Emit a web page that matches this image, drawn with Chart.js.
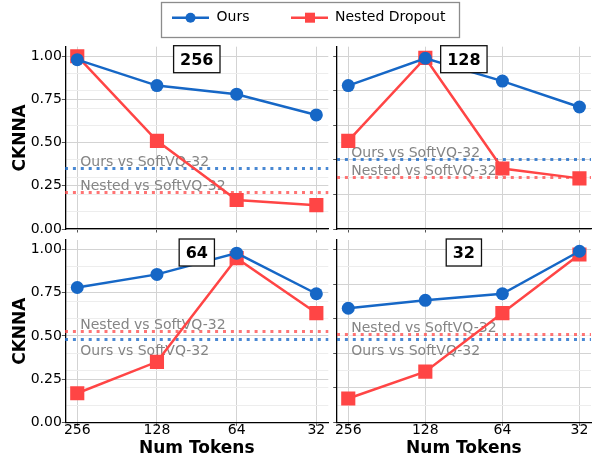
<!DOCTYPE html>
<html>
<head>
<meta charset="utf-8">
<script src="https://cdn.jsdelivr.net/npm/chart.js@4/dist/chart.umd.min.js"></script>
<style>
  html, body { margin: 0; padding: 0; background: #fff; overflow: hidden; width: 599px; height: 457px; }
  canvas { position: absolute; left: 0; top: 0; }
</style>
</head>
<body>
<canvas id="p0" width="601" height="457"></canvas>
<canvas id="p1" width="601" height="457"></canvas>
<canvas id="p2" width="601" height="457"></canvas>
<canvas id="p3" width="601" height="457"></canvas>
<script>
// Token counts on the x axis and the panel titles
const categories = ['256', '128', '64', '32'];
const panelTitles = ['256', '128', '64', '32'];

// CKNNA against each reference token count
const ours256   = [0.98, 0.83, 0.78, 0.66];
const nested256 = [1.00, 0.51, 0.168, 0.138];
const ours128   = [0.83, 0.988, 0.856, 0.706];
const nested128 = [0.51, 0.99, 0.35, 0.293];
const ours64    = [0.78, 0.856, 0.979, 0.744];
const nested64  = [0.168, 0.35, 0.95, 0.632];
const ours32    = [0.66, 0.706, 0.744, 0.99];
const nested32  = [0.138, 0.293, 0.632, 0.971];

// Baselines against SoftVQ-32, one per panel
const refOurs   = [0.351, 0.404, 0.477, 0.477];
const refNested = [0.214, 0.299, 0.523, 0.511];

// Y tick positions
const leftYTicks  = [0, 0.1, 0.2, 0.25, 0.3, 0.4, 0.5, 0.6, 0.7, 0.75, 0.8, 0.9, 1.0];
const rightYTicks = [0, 0.1, 0.2, 0.3, 0.4, 0.5, 0.6, 0.7, 0.8, 0.9, 1.0];

const FONT = '"DejaVu Sans", sans-serif';
const BLUE = '#1667c6';
const RED = '#ff4545';
const BLUE_REF = 'rgba(22,103,198,0.78)';
const RED_REF = 'rgba(255,69,69,0.75)';
const GRID_MAJOR = '#d3d3d3';
const GRID_MINOR = '#ededed';
const REF_TEXT = '#858585';
const W = 601, H = 457;

const panels = [
  { title: panelTitles[0], ours: ours256, nested: nested256, refO: refOurs[0], refN: refNested[0],
    oursBelow: false, nestedBelow: false, left: 65.3, right: 328.3, top: 46.7, bottom: 229, leftCol: true, bottomRow: false },
  { title: panelTitles[1], ours: ours128, nested: nested128, refO: refOurs[1], refN: refNested[1],
    oursBelow: false, nestedBelow: false, left: 336.7, right: 599.7, top: 46.7, bottom: 229, leftCol: false, bottomRow: false },
  { title: panelTitles[2], ours: ours64, nested: nested64, refO: refOurs[2], refN: refNested[2],
    oursBelow: true, nestedBelow: false, left: 65.3, right: 328.3, top: 240, bottom: 422.3, leftCol: true, bottomRow: true },
  { title: panelTitles[3], ours: ours32, nested: nested32, refO: refOurs[3], refN: refNested[3],
    oursBelow: true, nestedBelow: false, left: 336.7, right: 599.7, top: 240, bottom: 422.3, leftCol: false, bottomRow: true }
];

function isMajorLeft(v) { return Math.abs(v * 4 - Math.round(v * 4)) < 1e-6; }
function isMajorRight(v) { return Math.abs(v * 5 - Math.round(v * 5)) < 1e-6; }

// Dotted baselines with their captions, under the series
const refLinesPlugin = {
  id: 'refLines',
  beforeDatasetsDraw(chart, args, opts) {
    const p = opts.panel;
    const { ctx, chartArea } = chart;
    const ys = chart.scales.y, xs = chart.scales.x;
    const items = [
      { v: p.refO, color: BLUE_REF, text: 'Ours vs SoftVQ-32', below: p.oursBelow },
      { v: p.refN, color: RED_REF, text: 'Nested vs SoftVQ-32', below: p.nestedBelow }
    ];
    ctx.save();
    items.forEach(it => {
      // snap to the pixel grid so the 3px dots stay crisp
      const y = Math.round(ys.getPixelForValue(it.v) - 0.5) + 0.5;
      ctx.beginPath();
      ctx.setLineDash([3, 4.9]);
      ctx.lineCap = 'butt';
      ctx.lineWidth = 3;
      ctx.strokeStyle = it.color;
      ctx.moveTo(Math.round(chartArea.left), y);
      ctx.lineTo(chartArea.right, y);
      ctx.stroke();
    });
    ctx.setLineDash([]);
    ctx.font = '14px ' + FONT;
    ctx.fillStyle = REF_TEXT;
    ctx.textAlign = 'left';
    ctx.textBaseline = 'alphabetic';
    items.forEach(it => {
      const y = ys.getPixelForValue(it.v);
      const x = xs.getPixelForValue(0) + 3;
      ctx.fillText(it.text, x, it.below ? y + 15.5 : y - 2.5);
    });
    ctx.restore();
  }
};

// Panel title box, axis titles and the shared legend
const decorPlugin = {
  id: 'decor',
  afterDraw(chart, args, opts) {
    const p = opts.panel;
    const { ctx, chartArea } = chart;
    const cx = (chartArea.left + chartArea.right) / 2;
    const cy = (chartArea.top + chartArea.bottom) / 2;
    ctx.save();

    // title box
    ctx.font = 'bold 16px ' + FONT;
    const tw = ctx.measureText(p.title).width;
    const bw = tw + 13, bh = 27, bt = chartArea.top - 1;
    ctx.fillStyle = '#fff';
    ctx.fillRect(cx - bw / 2, bt, bw, bh);
    ctx.lineWidth = 1.3;
    ctx.strokeStyle = '#111';
    ctx.strokeRect(cx - bw / 2, bt, bw, bh);
    ctx.fillStyle = '#000';
    ctx.textAlign = 'center';
    ctx.textBaseline = 'alphabetic';
    ctx.fillText(p.title, cx, bt + bh / 2 + 5.8);

    // axis titles
    ctx.font = 'bold 17px ' + FONT;
    if (p.leftCol) {
      ctx.save();
      ctx.translate(24.5, cy);
      ctx.rotate(-Math.PI / 2);
      ctx.textAlign = 'center';
      ctx.fillText('CKNNA', 0, 0);
      ctx.restore();
    }
    if (p.bottomRow) {
      ctx.textAlign = 'center';
      ctx.fillText('Num Tokens', cx, 452.7);
    }

    // legend
    if (opts.legend) {
      const ly = 17.7;
      ctx.fillStyle = '#fff';
      ctx.fillRect(161.5, 2.5, 298, 35);
      ctx.lineWidth = 1.3;
      ctx.strokeStyle = '#8c8c8c';
      ctx.strokeRect(161.5, 2.5, 298, 35);

      ctx.lineWidth = 2.5;
      ctx.strokeStyle = BLUE;
      ctx.beginPath(); ctx.moveTo(172, ly); ctx.lineTo(209, ly); ctx.stroke();
      ctx.fillStyle = BLUE;
      ctx.beginPath(); ctx.arc(190.5, ly, 5, 0, Math.PI * 2); ctx.fill();

      ctx.strokeStyle = RED;
      ctx.beginPath(); ctx.moveTo(291, ly); ctx.lineTo(328, ly); ctx.stroke();
      ctx.fillStyle = RED;
      ctx.fillRect(305, ly - 5, 10, 10);

      ctx.font = '14px ' + FONT;
      ctx.fillStyle = '#000';
      ctx.textAlign = 'left';
      ctx.textBaseline = 'middle';
      ctx.fillText('Ours', 216.5, ly);
      ctx.fillText('Nested Dropout', 335, ly);
    }
    ctx.restore();
  }
};

function makeChart(id, p, withLegend) {
  const yw = p.leftCol ? 40 : 12;
  const xh = p.bottomRow ? 22 : 6;
  const yTicks = p.leftCol ? leftYTicks : rightYTicks;
  const isMajor = p.leftCol ? isMajorLeft : isMajorRight;
  return new Chart(document.getElementById(id), {
    type: 'line',
    data: {
      datasets: [
        {
          label: 'Ours',
          data: p.ours.map((v, i) => ({ x: i, y: v })),
          borderColor: BLUE, backgroundColor: BLUE,
          borderWidth: 2.5, tension: 0,
          pointStyle: 'circle', pointRadius: 6.5, pointBorderWidth: 0,
          pointBackgroundColor: BLUE
        },
        {
          label: 'Nested Dropout',
          data: p.nested.map((v, i) => ({ x: i, y: v })),
          borderColor: RED, backgroundColor: RED,
          borderWidth: 2.5, tension: 0,
          pointStyle: 'rect', pointRadius: 10, pointBorderWidth: 0,
          pointBackgroundColor: RED
        }
      ]
    },
    options: {
      responsive: false,
      animation: false,
      devicePixelRatio: 1,
      events: [],
      layout: { padding: { left: p.left - yw, right: W - p.right, top: p.top, bottom: H - p.bottom - xh } },
      plugins: {
        legend: { display: false },
        tooltip: { enabled: false },
        refLines: { panel: p },
        decor: { panel: p, legend: withLegend }
      },
      scales: {
        x: {
          type: 'linear', min: -0.15, max: 3.15,
          afterBuildTicks: s => { s.ticks = categories.map((c, i) => ({ value: i })); },
          afterFit: s => { s.height = xh; },
          ticks: {
            display: p.bottomRow, autoSkip: false, maxRotation: 0, padding: -3.5,
            font: { family: FONT, size: 14 }, color: '#000',
            callback: v => categories[v]
          },
          grid: { color: GRID_MAJOR, lineWidth: 1, tickLength: 3.5, tickColor: '#555' },
          border: { display: true, color: '#000', width: 1.3 }
        },
        y: {
          type: 'linear', min: 0, max: 1.055,
          afterBuildTicks: s => { s.ticks = yTicks.map(v => ({ value: v })); },
          afterFit: s => { s.width = yw; },
          ticks: {
            display: p.leftCol, autoSkip: false, padding: 0,
            font: { family: FONT, size: 14 }, color: '#000',
            callback: v => (isMajor(v) ? v.toFixed(2) : '')
          },
          grid: {
            lineWidth: 1, tickLength: 3.5,
            color: c => (isMajor(c.tick.value) ? GRID_MAJOR : GRID_MINOR),
            tickColor: c => (isMajor(c.tick.value) ? '#555' : 'rgba(0,0,0,0)')
          },
          border: { display: true, color: '#000', width: 1.3 }
        }
      }
    },
    plugins: [refLinesPlugin, decorPlugin]
  });
}

panels.forEach((p, i) => makeChart('p' + i, p, i === 0));
</script>
</body>
</html>
